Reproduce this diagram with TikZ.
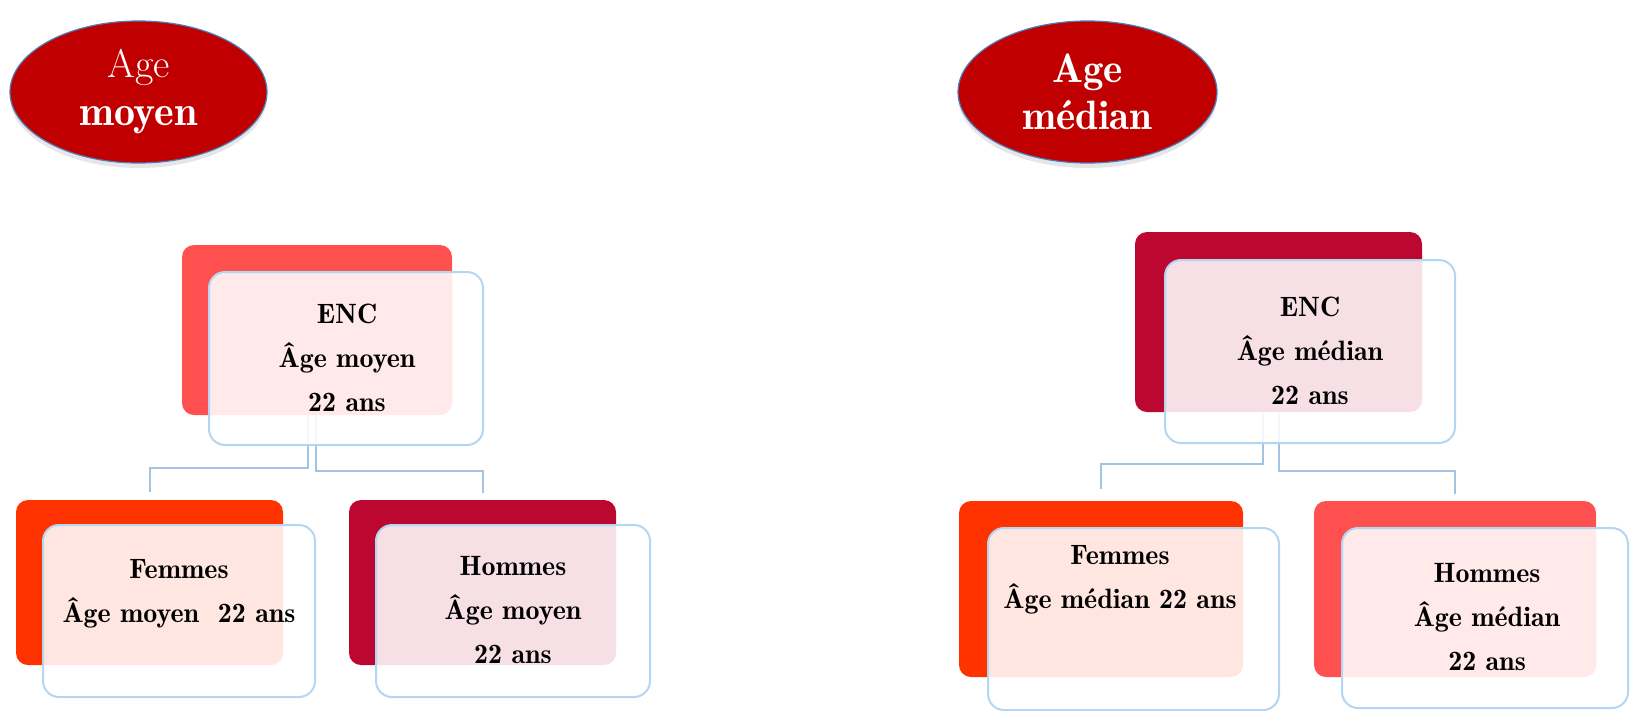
\documentclass[tikz,border=0pt]{standalone}
\usepackage{tikz}
\usetikzlibrary{positioning, shapes.geometric, shadows}

\definecolor{darkred}{HTML}{C00000}
\definecolor{redA}{HTML}{FF5050}
\definecolor{orangeA}{HTML}{FF3300}
\definecolor{crimsonA}{HTML}{BC0830}
\definecolor{frameblue}{HTML}{B4D6F2}
\definecolor{linkblue}{HTML}{A2C4E2}
\definecolor{ellborder}{HTML}{4A7EBB}

\begin{document}
\begin{tikzpicture}[
    x=1pt, y=-1pt,
    elli/.style={ellipse, draw=ellborder, line width=1.2pt, fill=darkred, text=white, inner sep=0pt, align=center,
        font=\fontsize{40}{48}\selectfont, drop shadow={shadow xshift=0pt, shadow yshift=-5pt, opacity=.2}},
    backbox/.style={rectangle, rounded corners=12pt, inner sep=0pt},
    frontbox/.style={rectangle, rounded corners=16pt, draw=frameblue, line width=2pt, fill=white, fill opacity=0.88, inner sep=0pt},
    txt/.style={align=center, font=\fontsize{28}{44}\fontseries{b}\selectfont},
    link/.style={draw=linkblue, line width=2pt}
]
\useasboundingbox (0,0) rectangle (1630,710);

% Left: age moyen
\node[elli, minimum width=257pt, minimum height=142pt] (ellM) at (138.5,92) {Age\\{\fontsize{42}{48}\fontseries{b}\selectfont moyen}};

\node[backbox, fill=redA, minimum width=270pt, minimum height=170pt] (encMback) at (317,330) {};
\node[backbox, fill=orangeA, minimum width=267pt, minimum height=165pt] (femMback) at (149.5,582.5) {};
\node[backbox, fill=crimsonA, minimum width=267pt, minimum height=165pt] (homMback) at (482.5,582.5) {};

% Right: age median
\node[elli, minimum width=259pt, minimum height=142pt, font=\fontsize{41}{47}\fontseries{b}\selectfont] (ellD) at (1087.5,92) {Age\\médian};

\node[backbox, fill=crimsonA, minimum width=287pt, minimum height=180pt] (encDback) at (1278.5,322) {};
\node[backbox, fill=orangeA, minimum width=284pt, minimum height=176pt] (femDback) at (1101,589) {};
\node[backbox, fill=redA, minimum width=282pt, minimum height=176pt] (homDback) at (1455,589) {};

% Links
\draw[link] ([xshift=-9pt]encMback.south) -- ++(0,53) -| ([yshift=8pt]femMback.north);
\draw[link] ([xshift=-1pt]encMback.south) -- ++(0,56) -| ([yshift=7pt]homMback.north);

\draw[link] ([xshift=-16pt]encDback.south) -- ++(0,52) -| ([yshift=12pt]femDback.north);
\draw[link] (encDback.south) -- ++(0,59) -| ([yshift=7pt]homDback.north);

% Front boxes
\node[frontbox, minimum width=274pt, minimum height=173pt] (encM) at (346,358.5) {};
\node[frontbox, minimum width=272pt, minimum height=172pt] (femM) at (179,611) {};
\node[frontbox, minimum width=274pt, minimum height=172pt] (homM) at (513,611) {};

\node[frontbox, minimum width=290pt, minimum height=183pt] (encD) at (1310,351.5) {};
\node[frontbox, minimum width=291pt, minimum height=182pt] (femD) at (1133.5,619) {};
\node[frontbox, minimum width=286pt, minimum height=180pt] (homD) at (1485,618) {};

% Texts
\node[txt] (encMtext) at (347,358) {ENC\\Âge moyen\\22 ans};
\node[txt] (femMtext) at (179,594) {Femmes\\Âge moyen~~22 ans};
\node[txt] (homMtext) at (513,610) {Hommes\\Âge moyen\\22 ans};

\node[txt] (encDtext) at (1310,351) {ENC\\Âge médian\\22 ans};
\node[txt] (femDtext) at (1120,580) {Femmes\\Âge médian 22 ans};
\node[txt] (homDtext) at (1487,617) {Hommes\\Âge médian\\22 ans};

\end{tikzpicture}
\end{document}
